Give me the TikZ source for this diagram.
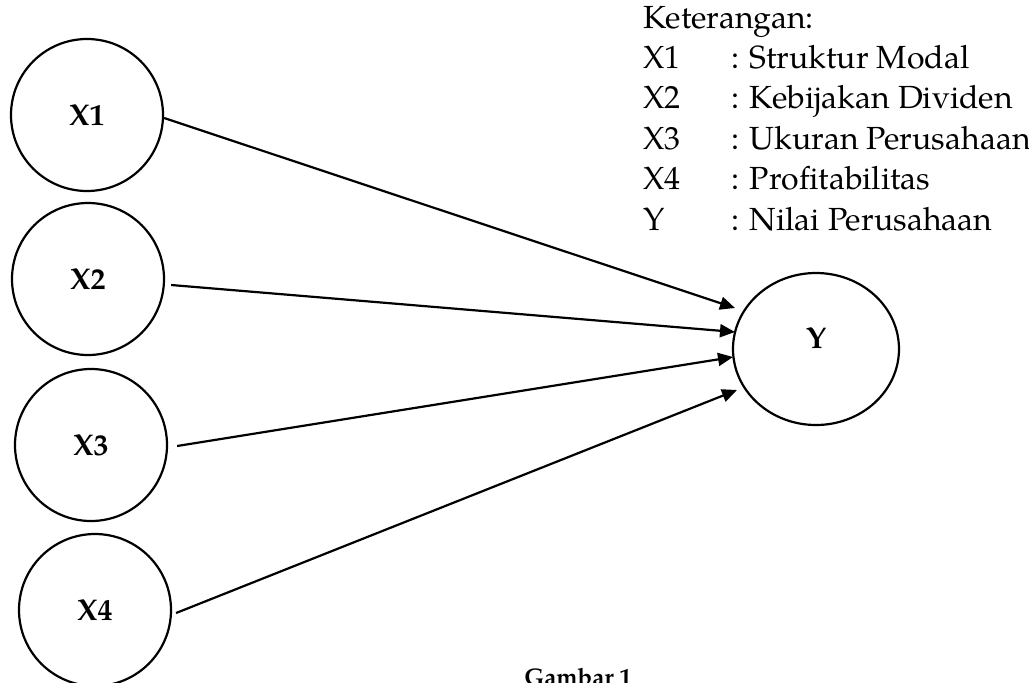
\documentclass[tikz,border=0pt]{standalone}
\usepackage{fontspec}
\setmainfont{TeX Gyre Pagella}
\usetikzlibrary{arrows.meta,shapes.geometric}
\begin{document}
\begin{tikzpicture}[x=1pt,y=-1pt,
  var/.style={circle,draw,line width=2.2pt,minimum size=152pt,inner sep=0pt,
    font=\fontsize{30}{34}\selectfont\bfseries},
  conn/.style={line width=2.2pt,-{Triangle[length=15pt,width=13pt]}},
  leg/.style={anchor=base west,inner sep=0pt,font=\fontsize{32}{40}\selectfont},
  lbl/.style={font=\fontsize{30}{34}\selectfont\bfseries,inner sep=0pt}]
\useasboundingbox (0,0) rectangle (1029,683);
\clip (0,0) rectangle (1029,683);
% variables
\node[var] (X1) at (87,115) {X1};
\node[var] (X2) at (88,279) {X2};
\node[var] (X3) at (91,445) {X3};
\node[var] (X4) at (95,610) {X4};
\node[ellipse,draw,line width=2.2pt,minimum width=166pt,minimum height=152pt,inner sep=0pt] (Y) at (816,349) {};
\node[lbl] (Ylab) at ([yshift=11pt]Y.center) {Y};
% connectors
\draw[conn] ([yshift=-3pt]X1.east) -- ([xshift=-81pt,yshift=41pt]Y.center);
\draw[conn] ([xshift=6pt,yshift=-6pt]X2.east) -- ([xshift=-81pt,yshift=17pt]Y.center);
\draw[conn] ([xshift=9pt,yshift=-1pt]X3.east) -- ([xshift=-83pt,yshift=-8pt]Y.center);
\draw[conn] ([xshift=4pt,yshift=-3pt]X4.east) -- ([xshift=-79pt,yshift=-41pt]Y.center);
% legend
\node[leg] (ket) at (643,28) {Keterangan:};
\node[leg] (k1) at (643,68) {X1};
\node[leg] (d1) at (731,68) {: Struktur Modal};
\node[leg] (k2) at (643,108.5) {X2};
\node[leg] (d2) at (731,108.5) {: Kebijakan Dividen};
\node[leg] (k3) at (643,149) {X3};
\node[leg] (d3) at (731,149) {: Ukuran Perusahaan};
\node[leg] (k4) at (643,189.5) {X4};
\node[leg] (d4) at (731,189.5) {: Profitabilitas};
\node[leg] (k5) at (643,230) {Y};
\node[leg] (d5) at (731,230) {: Nilai Perusahaan};
% caption
\node[anchor=base,inner sep=0pt,font=\fontsize{24}{28}\selectfont\bfseries] (gambar) at (578,685) {Gambar 1};
\end{tikzpicture}
\end{document}
